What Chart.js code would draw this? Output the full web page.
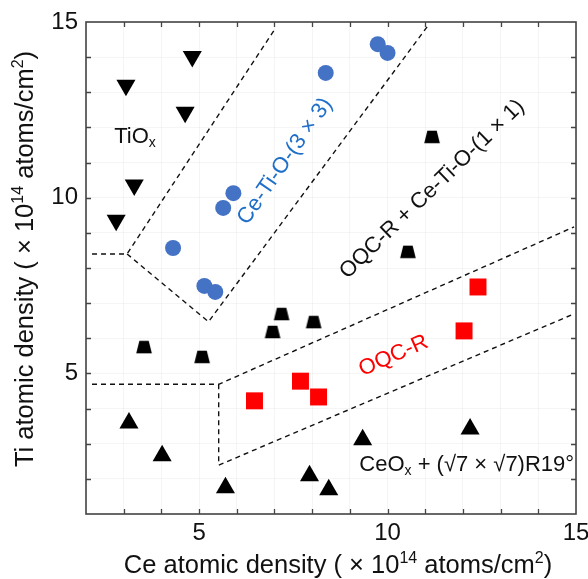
<!DOCTYPE html>
<html>
<head>
<meta charset="utf-8">
<script src="https://cdn.jsdelivr.net/npm/chart.js@4.4.1/dist/chart.umd.min.js"></script>
<style>
  html, body { margin: 0; padding: 0; background: #fff; }
</style>
</head>
<body>
<canvas id="phaseChart" width="588" height="579"></canvas>
<script>
// Ce / Ti atomic densities (x 10^14 atoms/cm^2) for each observed phase
const tiOxCe = [4.82, 3.06, 4.63, 3.28, 2.80];
const tiOxTi = [14.02, 13.20, 12.43, 10.36, 9.36];

const ceTiO3x3Ce = [4.31, 5.14, 5.43, 5.64, 5.91, 8.36, 9.74, 10.00];
const ceTiO3x3Ti = [8.57, 7.49, 7.32, 9.71, 10.13, 13.55, 14.37, 14.12];

const mixedCe = [11.18, 10.54, 3.54, 5.08, 6.95, 7.19, 8.04];
const mixedTi = [11.73, 8.46, 5.75, 5.47, 6.18, 6.69, 6.46];

const oqcCe = [6.47, 7.69, 8.17, 12.03, 12.40];
const oqcTi = [4.22, 4.78, 4.33, 6.21, 7.46];

const ceOxCe = [3.14, 4.02, 5.70, 9.34, 7.93, 8.44, 12.19];
const ceOxTi = [3.59, 2.66, 1.75, 3.11, 2.09, 1.69, 3.42];

// phase boundaries (dashed), as [Ce, Ti] corner points
const edgeTiOx = [[2.16, 8.40], [3.09, 8.40], [7.03, 14.83]];
const edge3x3 = [[3.09, 8.40], [5.25, 6.47], [11.09, 14.92]];
const edgeOqcUpper = [[2.16, 4.69], [5.52, 4.69], [14.95, 9.17]];
const edgeOqcLower = [[5.52, 4.69], [5.52, 2.39], [14.87, 6.66]];

const FONT = '"Liberation Sans", Arial, Helvetica, sans-serif';

function pts(xs, ys) {
    return xs.map((x, i) => ({ x: x, y: ys[i] }));
}

function edge(list) {
    return {
        data: list.map(p => ({ x: p[0], y: p[1] })),
        showLine: true,
        borderColor: '#111',
        borderWidth: 1.4,
        borderDash: [5, 4],
        pointRadius: 0,
        fill: false
    };
}

// truncated triangle marker
function trapezoidMarker() {
    const c = document.createElement('canvas');
    c.width = 18;
    c.height = 14;
    const g = c.getContext('2d');
    g.fillStyle = '#000';
    g.beginPath();
    g.moveTo(1.2, 13.2);
    g.lineTo(16.8, 13.2);
    g.lineTo(13.7, 0.8);
    g.lineTo(4.3, 0.8);
    g.closePath();
    g.fill();
    return c;
}

// draws text made of normal / sup / sub pieces, centred on (x, y)
function drawRich(ctx, parts, x, y, size, color, angle) {
    const fontOf = p => (p.sup || p.sub ? Math.round(size * 0.62) : size) + 'px ' + FONT;
    ctx.save();
    ctx.translate(x, y);
    ctx.rotate(angle * Math.PI / 180);
    ctx.fillStyle = color;
    ctx.textBaseline = 'alphabetic';
    ctx.textAlign = 'left';
    let total = 0;
    parts.forEach(p => {
        ctx.font = fontOf(p);
        total += ctx.measureText(p.t).width;
    });
    let cx = -total / 2;
    const base = size * 0.36;
    parts.forEach(p => {
        ctx.font = fontOf(p);
        let dy = 0;
        if (p.sup) dy = -size * 0.38;
        if (p.sub) dy = size * 0.2;
        ctx.fillText(p.t, cx, base + dy);
        cx += ctx.measureText(p.t).width;
    });
    ctx.restore();
}

const regionLabels = [
    { parts: [{ t: 'TiO' }, { t: 'x', sub: true }], x: 3.3, y: 11.79, angle: 0, color: '#111' },
    { parts: [{ t: 'Ce-Ti-O-(3 \u00d7 3)' }], x: 7.24, y: 11.07, angle: -55, color: '#1f6fc8' },
    { parts: [{ t: 'OQC-R + Ce-Ti-O-(1 \u00d7 1)' }], x: 11.15, y: 10.28, angle: -44, color: '#111' },
    { parts: [{ t: 'OQC-R' }], x: 10.14, y: 5.55, angle: -24, color: '#ff0000' },
    { parts: [{ t: 'CeO' }, { t: 'x', sub: true }, { t: ' + (\u221a7 \u00d7 \u221a7)R19\u00b0' }], x: 12.1, y: 2.45, angle: 0, color: '#111' }
];

const xTitle = [{ t: 'Ce atomic density ( \u00d7 10' }, { t: '14', sup: true }, { t: ' atoms/cm' }, { t: '2', sup: true }, { t: ')' }];
const yTitle = [{ t: 'Ti atomic density ( \u00d7 10' }, { t: '14', sup: true }, { t: ' atoms/cm' }, { t: '2', sup: true }, { t: ')' }];

// frame, inward ticks on all four sides, axis titles and region labels
const decorations = {
    id: 'decorations',
    afterDraw(chart) {
        const ctx = chart.ctx;
        const a = chart.chartArea;
        const xs = chart.scales.x;
        const ys = chart.scales.y;

        ctx.save();
        ctx.strokeStyle = '#444';
        ctx.lineWidth = 1.3;
        xs.ticks.forEach(t => {
            if (t.value <= xs.min || t.value >= xs.max) return;
            const px = Math.round(xs.getPixelForValue(t.value)) + 0.5;
            ctx.beginPath();
            ctx.moveTo(px, a.bottom); ctx.lineTo(px, a.bottom - 5);
            ctx.moveTo(px, a.top); ctx.lineTo(px, a.top + 5);
            ctx.stroke();
        });
        ys.ticks.forEach(t => {
            if (t.value <= ys.min || t.value >= ys.max) return;
            const py = Math.round(ys.getPixelForValue(t.value)) + 0.5;
            ctx.beginPath();
            ctx.moveTo(a.left, py); ctx.lineTo(a.left + 5, py);
            ctx.moveTo(a.right, py); ctx.lineTo(a.right - 5, py);
            ctx.stroke();
        });
        ctx.lineWidth = 1.6;
        ctx.strokeRect(a.left, a.top, a.right - a.left, a.bottom - a.top);
        ctx.restore();

        regionLabels.forEach(l => {
            drawRich(ctx, l.parts, xs.getPixelForValue(l.x), ys.getPixelForValue(l.y), 22, l.color, l.angle);
        });

        drawRich(ctx, xTitle, (a.left + a.right) / 2 + 7, a.bottom + 50, 25.5, '#111', 0);
        drawRich(ctx, yTitle, 24, (a.top + a.bottom) / 2 - 9, 25.5, '#111', -90);
    }
};

new Chart(document.getElementById('phaseChart'), {
    type: 'scatter',
    data: {
        datasets: [
            edge(edgeTiOx),
            edge(edge3x3),
            edge(edgeOqcUpper),
            edge(edgeOqcLower),
            {
                data: pts(tiOxCe, tiOxTi),
                pointStyle: 'triangle',
                rotation: 180,
                pointRadius: 11,
                backgroundColor: '#000',
                borderWidth: 0
            },
            {
                data: pts(ceTiO3x3Ce, ceTiO3x3Ti),
                pointStyle: 'circle',
                pointRadius: 8,
                backgroundColor: '#4472c4',
                borderWidth: 0
            },
            {
                data: pts(mixedCe, mixedTi),
                pointStyle: trapezoidMarker(),
                backgroundColor: '#000'
            },
            {
                data: pts(oqcCe, oqcTi),
                pointStyle: 'rect',
                pointRadius: 12,
                backgroundColor: '#ff0000',
                borderWidth: 0
            },
            {
                data: pts(ceOxCe, ceOxTi),
                pointStyle: 'triangle',
                pointRadius: 11,
                backgroundColor: '#000',
                borderWidth: 0
            }
        ]
    },
    options: {
        responsive: false,
        animation: false,
        layout: {
            padding: { left: 0, right: 11, top: 22, bottom: 0 }
        },
        plugins: {
            legend: { display: false },
            tooltip: { enabled: false }
        },
        scales: {
            x: {
                type: 'linear',
                min: 2,
                max: 15,
                border: { display: false },
                grid: { color: 'rgba(0,0,0,0.04)', drawTicks: false },
                ticks: {
                    stepSize: 1,
                    autoSkip: false,
                    maxRotation: 0,
                    padding: 5,
                    color: '#111',
                    font: { family: FONT, size: 24 },
                    callback: v => (v % 5 === 0 ? v : '')
                },
                afterFit(scale) {
                    scale.height = 65;
                    scale.paddingLeft = 0;
                    scale.paddingRight = 0;
                }
            },
            y: {
                type: 'linear',
                min: 1,
                max: 15,
                border: { display: false },
                grid: { color: 'rgba(0,0,0,0.04)', drawTicks: false },
                ticks: {
                    stepSize: 1,
                    autoSkip: false,
                    padding: 8,
                    color: '#111',
                    font: { family: FONT, size: 24 },
                    callback: v => (v % 5 === 0 ? v : '')
                },
                afterFit(scale) {
                    scale.width = 86;
                    scale.paddingTop = 0;
                    scale.paddingBottom = 0;
                }
            }
        }
    },
    plugins: [decorations]
});
</script>
</body>
</html>
